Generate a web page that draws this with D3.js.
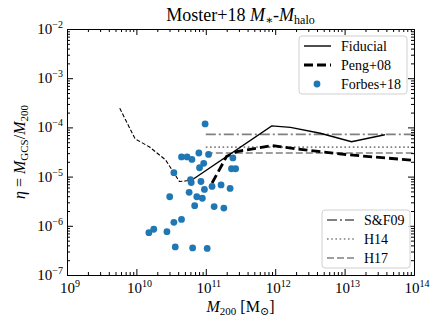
<!DOCTYPE html>
<html>
<head>
<meta charset="utf-8">
<script src="https://cdn.jsdelivr.net/npm/d3@7"></script>
<style>
  body { margin: 0; background: #fff; }
  text { font-family: "Liberation Serif", "DejaVu Serif", serif; fill: #000; }
</style>
</head>
<body>
<svg id="chart"></svg>
<script>
const size = {w: 436, h: 327};
const margin = {t: 29, r: 22, b: 52, l: 67};

// values, as log10
const lowMassLogM = [9.76, 9.98, 10.19, 10.42, 10.62, 10.70, 10.80];
const lowMassLogEta = [-3.61, -4.23, -4.40, -4.66, -5.10, -5.09, -5.07];

const fiducialLogM = [10.80, 11.95, 12.22, 12.65, 13.10, 13.58];
const fiducialLogEta = [-5.07, -3.97, -4.00, -4.12, -4.29, -4.15];

const pengLogM = [11.09, 11.30, 11.45, 11.95, 12.50, 13.08, 14.0];
const pengLogEta = [-5.13, -4.59, -4.49, -4.37, -4.47, -4.56, -4.67];

const forbesLogM = [10.99, 10.65, 10.73, 10.80, 10.90, 11.04, 10.97, 10.91, 10.54, 10.78,
    10.79, 10.93, 10.98, 10.76, 10.48, 10.87, 10.95, 10.84, 11.09, 11.22,
    11.35, 11.12, 11.26, 11.37, 11.43, 11.39, 10.65, 10.54, 10.44, 10.25,
    10.18, 10.56, 10.81, 11.02];
const forbesLogEta = [-3.93, -4.60, -4.60, -4.65, -4.52, -4.55, -4.73, -4.82, -4.92, -5.06,
    -5.12, -5.10, -5.26, -5.32, -5.41, -5.41, -5.44, -5.59, -5.20, -5.17,
    -5.24, -5.61, -5.64, -4.84, -4.84, -4.62, -5.87, -5.93, -6.12, -6.07,
    -6.14, -6.43, -6.45, -6.46];

const refNames = ['S&F09', 'H14', 'H17'];
const refLogEta = [-4.14, -4.40, -4.52];
const refStartLogM = 11.0;

const xDecades = [9, 10, 11, 12, 13, 14];
const yDecades = [-7, -6, -5, -4, -3, -2];

const svg = d3.select('svg#chart')
    .attr('width', size.w)
    .attr('height', size.h);

const pw = size.w - margin.l - margin.r;
const ph = size.h - margin.t - margin.b;

const x = d3.scaleLog().domain([1e9, 1e14]).range([margin.l, margin.l + pw]);
const y = d3.scaleLog().domain([1e-7, 1e-2]).range([margin.t + ph, margin.t]);

const line = d3.line()
    .x(d => x(Math.pow(10, d[0])))
    .y(d => y(Math.pow(10, d[1])));

const plotG = svg.append('g');

// reference horizontal lines
const refDash = ['10,3,2,3', '1.6,2.6', '7,3'];
const refWidth = [1.8, 1.6, 1.6];
refLogEta.forEach((v, i) => {
    plotG.append('path')
        .attr('d', line([[refStartLogM, v], [14, v]]))
        .attr('fill', 'none')
        .attr('stroke', '#808080')
        .attr('stroke-width', refWidth[i])
        .attr('stroke-dasharray', refDash[i]);
});

plotG.append('path')
    .attr('d', line(d3.zip(lowMassLogM, lowMassLogEta)))
    .attr('fill', 'none')
    .attr('stroke', '#000')
    .attr('stroke-width', 1.1)
    .attr('stroke-dasharray', '4,2');

plotG.append('path')
    .attr('d', line(d3.zip(fiducialLogM, fiducialLogEta)))
    .attr('fill', 'none')
    .attr('stroke', '#000')
    .attr('stroke-width', 1.4);

plotG.append('path')
    .attr('d', line(d3.zip(pengLogM, pengLogEta)))
    .attr('fill', 'none')
    .attr('stroke', '#000')
    .attr('stroke-width', 2.8)
    .attr('stroke-dasharray', '9,4');

plotG.selectAll('circle')
    .data(d3.zip(forbesLogM, forbesLogEta))
    .join('circle')
    .attr('cx', d => x(Math.pow(10, d[0])))
    .attr('cy', d => y(Math.pow(10, d[1])))
    .attr('r', 3.4)
    .attr('fill', '#1f77b4');

// axes, ticks pointing in on all four sides
const isDecade = t => Math.abs(Math.log10(t) - Math.round(Math.log10(t))) < 1e-6;
const xMajor = xDecades.map(d => Math.pow(10, d));
const xMinor = x.ticks().filter(t => !isDecade(t));
const yMajor = yDecades.map(d => Math.pow(10, d));
const yMinor = y.ticks().filter(t => !isDecade(t));

function addAxis(axisFn, scale, values, len, transform) {
    svg.append('g')
        .attr('transform', transform)
        .call(axisFn(scale).tickValues(values).tickSize(-len).tickFormat(''))
        .call(g => g.select('.domain').attr('stroke', '#000').attr('stroke-width', 1));
}
[[xMajor, 6], [xMinor, 3]].forEach(([v, l]) => {
    addAxis(d3.axisBottom, x, v, l, `translate(0,${margin.t + ph})`);
    addAxis(d3.axisTop, x, v, l, `translate(0,${margin.t})`);
});
[[yMajor, 6], [yMinor, 3]].forEach(([v, l]) => {
    addAxis(d3.axisLeft, y, v, l, `translate(${margin.l},0)`);
    addAxis(d3.axisRight, y, v, l, `translate(${margin.l + pw},0)`);
});

// tick labels
xDecades.forEach(p => {
    const t = svg.append('text')
        .attr('x', x(Math.pow(10, p)) + 3)
        .attr('y', margin.t + ph + 18)
        .attr('text-anchor', 'middle')
        .attr('font-size', 15);
    t.append('tspan').text('10');
    t.append('tspan').attr('dy', -6).attr('font-size', 10).text(p);
});
yDecades.forEach(p => {
    const t = svg.append('text')
        .attr('x', margin.l - 4)
        .attr('y', y(Math.pow(10, p)) + 5)
        .attr('text-anchor', 'end')
        .attr('font-size', 15);
    t.append('tspan').text('10');
    t.append('tspan').attr('dy', -6).attr('font-size', 10).text('\u2212' + (-p));
});

// title
const title = svg.append('text')
    .attr('x', margin.l + pw / 2)
    .attr('y', 21)
    .attr('text-anchor', 'middle')
    .attr('font-size', 18);
title.append('tspan').text('Moster+18 ');
title.append('tspan').attr('font-style', 'italic').text('M');
title.append('tspan').attr('font-size', 12).attr('dy', 3).text('\u2217');
title.append('tspan').attr('dy', -3).text('-');
title.append('tspan').attr('font-style', 'italic').text('M');
title.append('tspan').attr('font-size', 12).attr('dy', 3).text('halo');

// x label
const xl = svg.append('text')
    .attr('x', margin.l + pw / 2)
    .attr('y', 312)
    .attr('text-anchor', 'middle')
    .attr('font-size', 16);
xl.append('tspan').attr('font-style', 'italic').text('M');
xl.append('tspan').attr('font-size', 11).attr('dy', 3).text('200');
xl.append('tspan').attr('dy', -3).text(' [M');
xl.append('tspan').attr('font-size', 11).attr('dy', 3).text('\u2299');
xl.append('tspan').attr('dy', -3).text(']');

// y label
const yl = svg.append('text')
    .attr('transform', `translate(25,${margin.t + ph / 2}) rotate(-90)`)
    .attr('text-anchor', 'middle')
    .attr('font-size', 16);
yl.append('tspan').attr('font-style', 'italic').text('\u03b7');
yl.append('tspan').text(' = ');
yl.append('tspan').attr('font-style', 'italic').text('M');
yl.append('tspan').attr('font-size', 11).attr('dy', 3).text('GCS');
yl.append('tspan').attr('dy', -3).text('/');
yl.append('tspan').attr('font-style', 'italic').text('M');
yl.append('tspan').attr('font-size', 11).attr('dy', 3).text('200');

// legends
function legend(x0, y0, w, h, items) {
    const g = svg.append('g').attr('transform', `translate(${x0},${y0})`);
    g.append('rect')
        .attr('width', w).attr('height', h)
        .attr('rx', 3)
        .attr('fill', '#fff').attr('fill-opacity', 0.8)
        .attr('stroke', '#d0d0d0');
    items.forEach((it, i) => {
        const cy = 10 + i * 19;
        if (it.dot) {
            g.append('circle').attr('cx', 18).attr('cy', cy).attr('r', 3.4).attr('fill', '#1f77b4');
        } else {
            g.append('line')
                .attr('x1', 5).attr('x2', 32).attr('y1', cy).attr('y2', cy)
                .attr('stroke', it.color)
                .attr('stroke-width', it.width)
                .attr('stroke-dasharray', it.dash);
        }
        g.append('text')
            .attr('x', 42).attr('y', cy + 5)
            .attr('font-size', 14)
            .text(it.name);
    });
}

legend(299, 36, 108, 58, [
    {name: 'Fiducial', color: '#000', width: 1.4, dash: null},
    {name: 'Peng+08', color: '#000', width: 2.8, dash: '9,4'},
    {name: 'Forbes+18', dot: true}
]);
legend(322, 210, 88, 58, refNames.map((n, i) => ({
    name: n, color: '#808080', width: refWidth[i], dash: refDash[i]
})));
</script>
</body>
</html>
